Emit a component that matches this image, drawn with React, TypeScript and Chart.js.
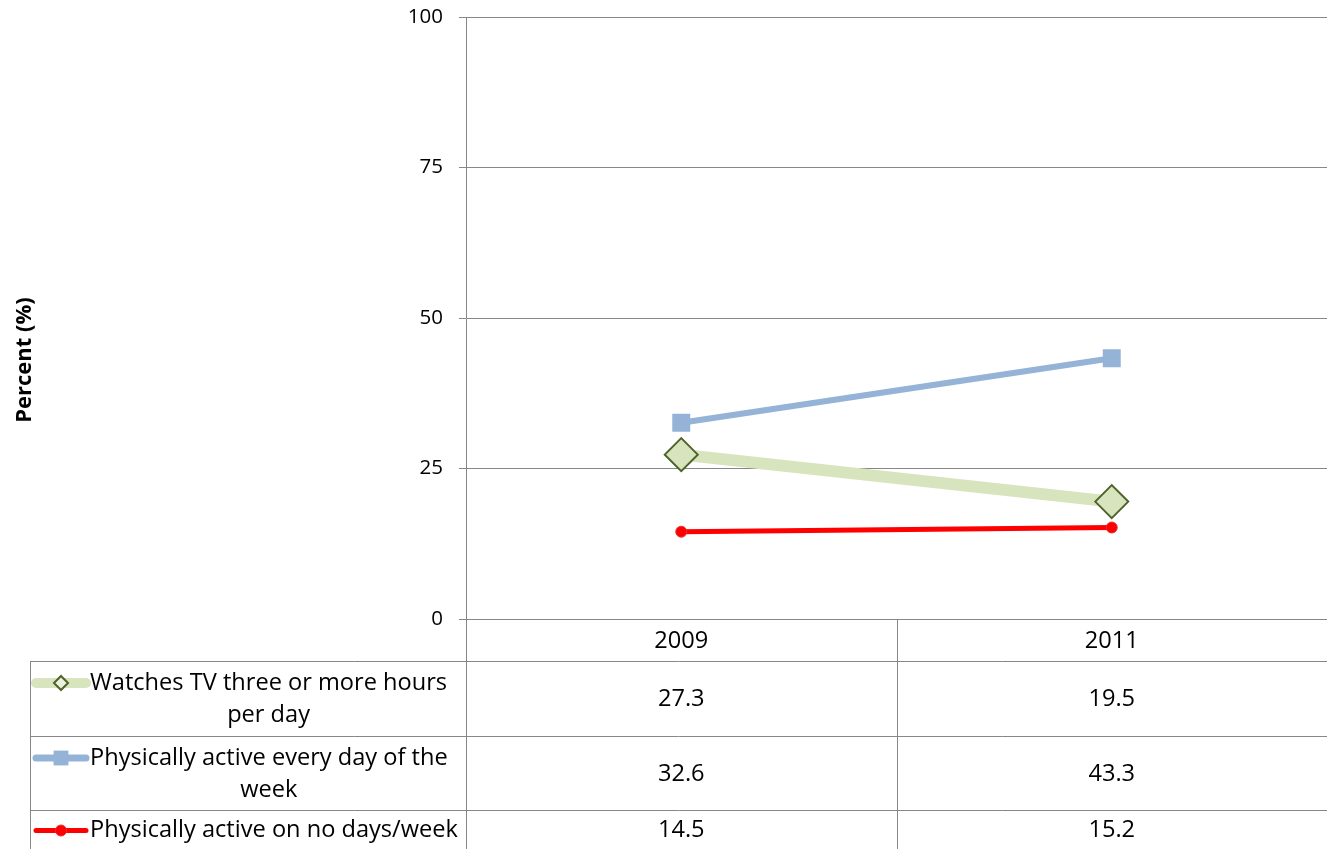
import React, { useEffect, useRef } from "react";
import { Chart, registerables } from "chart.js";

Chart.register(...registerables);

// ---- Data ----
const categories = ["2009", "2011"];
const seriesNames = [
  "Watches TV three or more hours per day",
  "Physically active every day of the week",
  "Physically active on no days/week",
];
const seriesLegendLines = [
  ["Watches TV three or more hours", "per day"],
  ["Physically active every day of the", "week"],
  ["Physically active on no days/week"],
];
const watchesTV = [27.3, 19.5];
const activeEveryDay = [32.6, 43.3];
const activeNoDays = [14.5, 15.2];
const yTickValues = [0, 25, 50, 75, 100];
const yTitle = "Percent (%)";

// ---- Styles ----
const FONT = '"Open Sans", sans-serif';
const TICK_SIZE = 20.5;
const TABLE_SIZE = 23.6;
const TITLE_SIZE = 22;
const GRID = "#878787";
const W = 1327;
const H = 849;

const seriesStyles = [
  { line: "#d7e4bd", lineWidth: 12, point: "rectRot", radius: 16.5, fill: "#d7e4bd", border: "#4f6228", borderWidth: 2,
    legendLineWidth: 10, legendRadius: 7 },
  { line: "#95b3d7", lineWidth: 6, point: "rect", radius: 12.7, fill: "#95b3d7", border: "#95b3d7", borderWidth: 0,
    legendLineWidth: 7, legendRadius: 10.5 },
  { line: "#ff0000", lineWidth: 5, point: "circle", radius: 5.5, fill: "#ff0000", border: "#e83030", borderWidth: 1,
    legendLineWidth: 5, legendRadius: 5.5 },
];

const seriesValues = [watchesTV, activeEveryDay, activeNoDays];

function drawMarker(ctx: CanvasRenderingContext2D, style: string, x: number, y: number, r: number, fill: string, border: string, bw: number) {
  ctx.beginPath();
  if (style === "rectRot") {
    ctx.moveTo(x - r, y);
    ctx.lineTo(x, y - r);
    ctx.lineTo(x + r, y);
    ctx.lineTo(x, y + r);
    ctx.closePath();
  } else if (style === "rect") {
    const s = r * Math.SQRT1_2;
    ctx.rect(x - s, y - s, 2 * s, 2 * s);
  } else {
    ctx.arc(x, y, r, 0, Math.PI * 2);
  }
  ctx.fillStyle = fill;
  ctx.fill();
  if (bw > 0) {
    ctx.strokeStyle = border;
    ctx.lineWidth = bw;
    ctx.stroke();
  }
}

const tablePlugin = {
  id: "dataTable",
  afterDraw(chart: any) {
    const ctx: CanvasRenderingContext2D = chart.ctx;
    const { left, right, bottom } = chart.chartArea;
    const xs = chart.scales.x;
    const rowLines = [661, 736, 810];
    const rowBottoms = [736, 810, 849];
    const tableLeft = 30;
    const c0 = xs.getPixelForValue(0);
    const c1 = xs.getPixelForValue(1);
    const mid = (c0 + c1) / 2;

    ctx.save();
    ctx.strokeStyle = GRID;
    ctx.lineWidth = 1;
    const line = (x1: number, y1: number, x2: number, y2: number) => {
      ctx.beginPath();
      ctx.moveTo(x1, y1);
      ctx.lineTo(x2, y2);
      ctx.stroke();
    };
    rowLines.forEach((y) => line(tableLeft, y + 0.5, right, y + 0.5));
    line(Math.round(left) + 0.5, bottom, Math.round(left) + 0.5, H);
    line(Math.round(mid) + 0.5, bottom, Math.round(mid) + 0.5, H);
    line(tableLeft + 0.5, rowLines[0], tableLeft + 0.5, H);

    ctx.fillStyle = "#000";
    ctx.font = `${TABLE_SIZE}px ${FONT}`;
    ctx.textAlign = "center";
    ctx.textBaseline = "middle";
    // header
    categories.forEach((c, i) => {
      ctx.fillText(c, xs.getPixelForValue(i), (bottom + rowLines[0]) / 2 + 1);
    });
    // rows
    seriesValues.forEach((vals, r) => {
      const top = rowLines[r];
      const bot = rowBottoms[r];
      const cy = (top + bot) / 2 + 1;
      vals.forEach((v, i) => {
        ctx.fillStyle = "#000";
        ctx.fillText(v.toFixed(1), xs.getPixelForValue(i), cy);
      });
      // legend
      const lines = seriesLegendLines[r];
      const lineH = 32;
      const firstY = lines.length > 1 ? top + 22 : cy;
      const textLeft = 90;
      const widths = lines.map((l) => ctx.measureText(l).width);
      const maxW = Math.max(...widths);
      lines.forEach((l, k) => {
        ctx.fillStyle = "#000";
        ctx.textAlign = "center";
        ctx.fillText(l, textLeft + maxW / 2, firstY + k * lineH);
      });
      const st = seriesStyles[r];
      const ly = firstY;
      ctx.strokeStyle = st.line;
      ctx.lineWidth = st.legendLineWidth;
      ctx.lineCap = "round";
      line(tableLeft + 6, ly, 86, ly);
      ctx.lineCap = "butt";
      drawMarker(ctx, st.point, 61, ly, st.legendRadius, r === 0 ? "#ebf1de" : st.fill, st.border, st.borderWidth);
      ctx.strokeStyle = GRID;
      ctx.lineWidth = 1;
    });

    // y title
    ctx.save();
    ctx.translate(25, 360);
    ctx.rotate(-Math.PI / 2);
    ctx.font = `bold ${TITLE_SIZE}px ${FONT}`;
    ctx.fillStyle = "#000";
    ctx.textAlign = "center";
    ctx.textBaseline = "middle";
    ctx.fillText(yTitle, 0, 0);
    ctx.restore();
    ctx.restore();
  },
};

export default function App() {
  const ref = useRef<HTMLCanvasElement>(null);
  useEffect(() => {
    if (!ref.current) return;
    const chart = new Chart(ref.current, {
      type: "line",
      data: {
        labels: categories,
        datasets: seriesValues.map((vals, i) => ({
          label: seriesNames[i],
          data: vals,
          borderColor: seriesStyles[i].line,
          borderWidth: seriesStyles[i].lineWidth,
          pointStyle: seriesStyles[i].point as any,
          pointRadius: seriesStyles[i].radius,
          pointBackgroundColor: seriesStyles[i].fill,
          pointBorderColor: seriesStyles[i].border,
          pointBorderWidth: seriesStyles[i].borderWidth,
          tension: 0,
          fill: false,
        })),
      },
      options: {
        responsive: false,
        animation: false,
        devicePixelRatio: 1,
        layout: { autoPadding: false, padding: { top: 17, right: 0, left: 0, bottom: 0 } },
        plugins: { legend: { display: false }, tooltip: { enabled: false } },
        scales: {
          x: {
            offset: true,
            grid: { display: false },
            border: { display: false },
            ticks: { display: false },
            afterFit: (s: any) => { s.height = H - 619; s.paddingLeft = 0; s.paddingRight = 0; },
          },
          y: {
            min: 0,
            max: 100,
            afterBuildTicks: (s: any) => { s.ticks = yTickValues.map((v) => ({ value: v })); },
            ticks: {
              color: "#000",
              font: { family: FONT, size: TICK_SIZE },
              padding: 16,
            },
            grid: { color: GRID, lineWidth: 1, tickLength: 7, drawTicks: true },
            border: { display: true, color: GRID, width: 1 },
            afterFit: (s: any) => { s.width = 466; s.paddingTop = 0; s.paddingBottom = 0; },
          },
        },
      },
      plugins: [tablePlugin],
    });
    return () => chart.destroy();
  }, []);
  return (
    <div style={{ position: "absolute", left: 0, top: 0, width: W, height: H, background: "#fff" }}>
      <canvas ref={ref} width={W} height={H} style={{ display: "block" }} />
    </div>
  );
}
